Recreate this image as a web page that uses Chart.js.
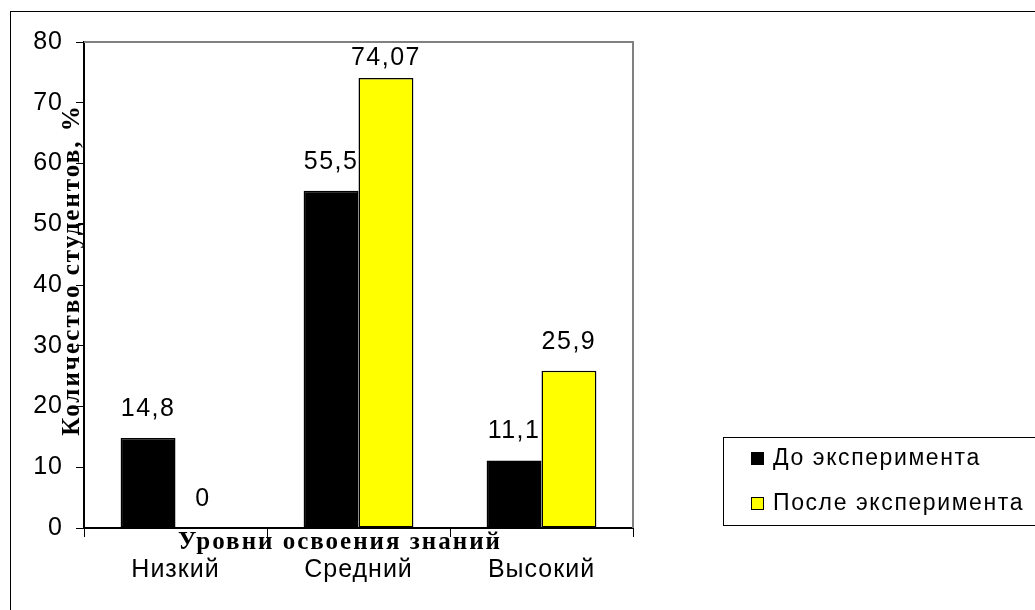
<!DOCTYPE html>
<html>
<head>
<meta charset="utf-8">
<script src="https://cdn.jsdelivr.net/npm/chart.js@4"></script>
<style>
  html, body { margin: 0; padding: 0; background: #fff; }
  canvas { display: block; }
</style>
</head>
<body>
<canvas id="chart" width="1035" height="610"></canvas>
<script>
// data
const levels = ['Низкий', 'Средний', 'Высокий'];
const beforeExp = [14.8, 55.5, 11.1];
const afterExp = [0, 74.07, 25.9];
const seriesNames = ['До эксперимента', 'После эксперимента'];
const seriesColors = ['#000000', '#ffff00'];
const yMin = 0, yMax = 80, yStep = 10;
const xTitle = 'Уровни освоения знаний';
const yTitle = 'Количество студентов, %';

const SANS = '"Liberation Sans", Arial, sans-serif';
const SERIF = '"Liberation Serif", "Times New Roman", serif';

const fmt = v => String(v).replace('.', ',');

// background, outer frame, default letter spacing
const framePlugin = {
  id: 'frame',
  beforeDraw(chart) {
    const ctx = chart.ctx;
    ctx.save();
    ctx.fillStyle = '#fff';
    ctx.fillRect(0, 0, chart.width, chart.height);
    ctx.strokeStyle = '#000';
    ctx.lineWidth = 1;
    ctx.strokeRect(10.5, 11.5, chart.width + 20, chart.height + 20);
    ctx.restore();
    ctx.letterSpacing = '1px';
  }
};

// value labels above each bar
const valueLabels = {
  id: 'valueLabels',
  afterDatasetsDraw(chart) {
    const ctx = chart.ctx;
    const area = chart.chartArea;
    ctx.save();
    ctx.font = '25px ' + SANS;
    ctx.letterSpacing = '1.5px';
    ctx.fillStyle = '#000';
    ctx.textAlign = 'center';
    ctx.textBaseline = 'middle';
    chart.data.datasets.forEach((ds, i) => {
      chart.getDatasetMeta(i).data.forEach((bar, j) => {
        const y = Math.max(bar.y - 29, area.top + 16);
        ctx.fillText(fmt(ds.data[j]), bar.x, y);
      });
    });
    ctx.restore();
  }
};

// plot border, axis titles, legend box
const decorations = {
  id: 'decorations',
  afterDraw(chart) {
    const ctx = chart.ctx;
    const a = chart.chartArea;
    ctx.save();

    ctx.strokeStyle = '#808080';
    ctx.lineWidth = 2;
    ctx.beginPath();
    ctx.moveTo(a.left, a.top);
    ctx.lineTo(a.right, a.top);
    ctx.lineTo(a.right, a.bottom);
    ctx.stroke();

    ctx.fillStyle = '#000';
    ctx.font = 'bold 25px ' + SERIF;
    ctx.letterSpacing = '2px';
    ctx.textAlign = 'center';
    ctx.textBaseline = 'middle';
    ctx.fillText(xTitle, 340, 543);

    ctx.save();
    ctx.translate(73, 270);
    ctx.rotate(-Math.PI / 2);
    ctx.fillText(yTitle, 0, 0);
    ctx.restore();

    // legend
    ctx.strokeStyle = '#000';
    ctx.lineWidth = 1;
    ctx.strokeRect(723.5, 437.5, 400, 88);
    ctx.font = '23px ' + SANS;
    ctx.letterSpacing = '1.6px';
    ctx.textAlign = 'left';
    chart.data.datasets.forEach((ds, i) => {
      const cy = 458 + i * 45;
      ctx.fillStyle = ds.backgroundColor;
      ctx.fillRect(751, cy - 6, 13, 13);
      ctx.strokeRect(751.5, cy - 5.5, 12, 12);
      ctx.fillStyle = '#000';
      ctx.fillText(ds.label, 773, cy + 1);
    });

    ctx.restore();
  }
};

new Chart(document.getElementById('chart'), {
  type: 'bar',
  data: {
    labels: levels,
    datasets: [
      { label: seriesNames[0], data: beforeExp, backgroundColor: seriesColors[0] },
      { label: seriesNames[1], data: afterExp, backgroundColor: seriesColors[1] }
    ]
  },
  options: {
    responsive: false,
    animation: false,
    devicePixelRatio: 1,
    layout: { padding: { left: 0, top: 42, right: 402, bottom: 0 } },
    datasets: {
      bar: {
        borderColor: '#000',
        borderWidth: 1.5,
        borderSkipped: false,
        barPercentage: 1,
        categoryPercentage: 0.6
      }
    },
    plugins: {
      legend: { display: false },
      tooltip: { enabled: false }
    },
    scales: {
      x: {
        afterFit(scale) { scale.height = 82; },
        grid: {
          offset: true,
          drawOnChartArea: false,
          drawTicks: true,
          tickLength: 9,
          color: '#000',
          lineWidth: 1
        },
        border: { display: true, color: '#000', width: 2 },
        ticks: {
          color: '#000',
          font: { family: SANS, size: 25 },
          padding: 18
        }
      },
      y: {
        min: yMin,
        max: yMax,
        afterFit(scale) { scale.width = 84; },
        grid: {
          drawOnChartArea: false,
          drawTicks: true,
          tickLength: 8,
          color: '#000',
          lineWidth: 1
        },
        border: { display: true, color: '#000', width: 2 },
        ticks: {
          stepSize: yStep,
          color: '#000',
          font: { family: SANS, size: 25 },
          padding: 13
        }
      }
    }
  },
  plugins: [framePlugin, valueLabels, decorations]
});
</script>
</body>
</html>
